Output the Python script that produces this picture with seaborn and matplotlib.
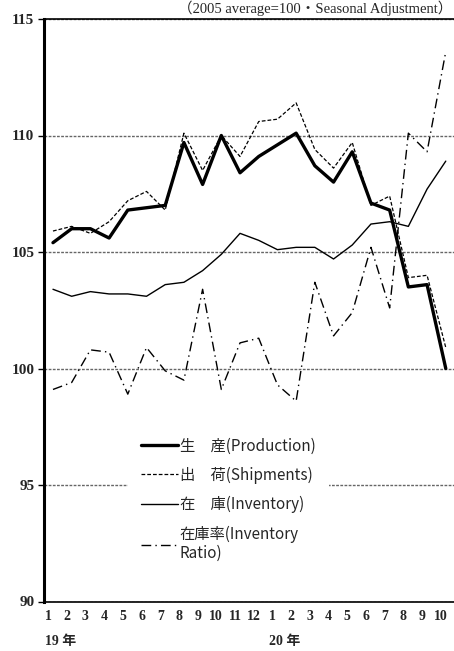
import numpy as np
import pandas as pd
import seaborn as sns
import matplotlib.pyplot as plt
from matplotlib.transforms import ScaledTranslation

# monthly index values, 2019/1 .. 2020/10 (2005 average = 100, seasonally adjusted)
months = [1, 2, 3, 4, 5, 6, 7, 8, 9, 10, 11, 12, 1, 2, 3, 4, 5, 6, 7, 8, 9, 10]
production = [105.4, 106.0, 106.0, 105.6, 106.8, 106.9, 107.0, 109.7, 107.9, 110.0, 108.4,
              109.1, 109.6, 110.1, 108.7, 108.0, 109.3, 107.1, 106.8, 103.5, 103.6, 100.0]
shipments = [105.9, 106.1, 105.8, 106.3, 107.2, 107.6, 106.8, 110.1, 108.5, 110.0, 109.1,
             110.6, 110.7, 111.4, 109.4, 108.6, 109.7, 107.0, 107.4, 103.9, 104.0, 100.9]
inventory = [103.4, 103.1, 103.3, 103.2, 103.2, 103.1, 103.6, 103.7, 104.2, 104.9, 105.8,
             105.5, 105.1, 105.2, 105.2, 104.7, 105.3, 106.2, 106.3, 106.1, 107.7, 108.9]
inv_ratio = [99.1, 99.4, 100.8, 100.7, 98.9, 100.9, 99.9, 99.5, 103.4, 99.1, 101.1,
             101.3, 99.3, 98.6, 103.7, 101.4, 102.4, 105.2, 102.6, 110.1, 109.3, 113.6]
year_labels = ["19 年", "20 年"]
year_start = [0, 12]

labels = ["生　産(Production)", "出　荷(Shipments)", "在　庫(Inventory)", "在庫率(Inventory\nRatio)"]

df = pd.DataFrame({"x": np.arange(len(months)),
                   "production": production, "shipments": shipments,
                   "inventory": inventory, "inv_ratio": inv_ratio})

sns.set_style("white")
serif = ["Liberation Serif", "Noto Sans CJK JP"]
sans = ["Noto Sans CJK JP", "DejaVu Sans"]

fig = plt.figure(figsize=(4.54, 6.51), dpi=100)
ax = fig.add_axes([44 / 454, 49.5 / 651, 410 / 454, 582.5 / 651])

sns.lineplot(data=df, x="x", y="production", ax=ax, color="black", lw=2.4, label=labels[0])
sns.lineplot(data=df, x="x", y="shipments", ax=ax, color="black", lw=0.9,
             linestyle=(0, (3, 1.6)), label=labels[1])
sns.lineplot(data=df, x="x", y="inventory", ax=ax, color="black", lw=1.0, label=labels[2])
sns.lineplot(data=df, x="x", y="inv_ratio", ax=ax, color="black", lw=1.0,
             linestyle=(0, (7, 3, 1, 3)), label=labels[3])

ax.set_xlim(-0.48, 21.44)
ax.set_ylim(90, 115)
ax.set_yticks([90, 95, 100, 105, 110, 115])
ax.set_yticklabels(["90", "95", "100", "105", "110", "115"],
                   family="Liberation Serif", fontweight="bold", fontsize=11)
ax.tick_params(axis="y", left=True, length=4, width=1, color="black", pad=3)
ax.yaxis.grid(True, color="#666666", lw=1.0, linestyle=(0, (2, 1)))
ax.set_axisbelow(True)

ax.set_xticks(df["x"])
ax.set_xticklabels([str(m) for m in months], family="Liberation Serif",
                   fontweight="bold", fontsize=10)
ax.tick_params(axis="x", bottom=False, length=0, pad=6)
for lbl in ax.get_xticklabels():
    lbl.set_transform(lbl.get_transform() + ScaledTranslation(-5 / 100, 0, fig.dpi_scale_trans))

for yl, xs in zip(year_labels, year_start):
    ax.annotate(yl, xy=(xs, 0), xycoords=("data", "axes fraction"),
                xytext=(-8, -40), textcoords="offset pixels", ha="left", va="center",
                family=serif, fontweight="bold", fontsize=10)

ax.set_xlabel("")
ax.set_ylabel("")
for s in ["top", "bottom"]:
    ax.spines[s].set_color("black")
    ax.spines[s].set_linewidth(1.2)
ax.spines["left"].set_color("black")
ax.spines["left"].set_linewidth(2.2)
ax.spines["right"].set_visible(False)

leg = ax.legend(loc="upper left", bbox_to_anchor=(120 / 454, 235 / 651),
                bbox_transform=fig.transFigure, frameon=True, fancybox=False,
                facecolor="white", edgecolor="none", framealpha=1,
                prop={"family": sans, "size": 11}, handlelength=2.4,
                handletextpad=0.1, labelspacing=0.8, borderpad=0.9)

fig.text(452 / 454, 1 - 8 / 651, "（2005 average=100・Seasonal Adjustment）",
         ha="right", va="center", family=serif, fontsize=10.5)

plt.savefig("out.png", dpi=100)
